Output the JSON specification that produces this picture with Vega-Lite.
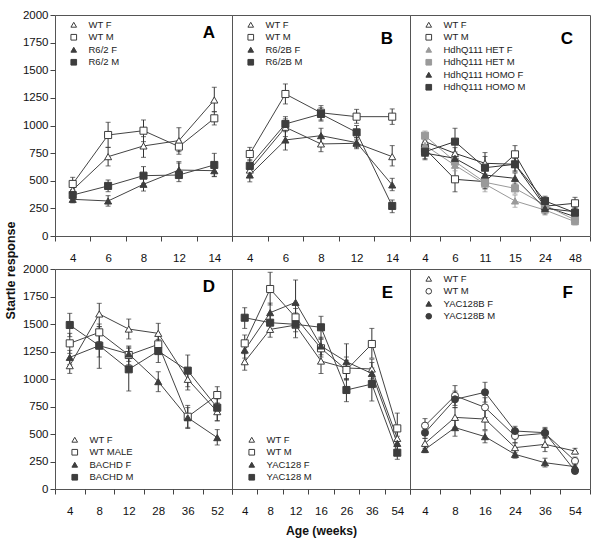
{
"$schema":"https://vega.github.io/schema/vega-lite/v6.json",
"padding":{"top":8,"left":3,"right":5,"bottom":5},
"background":"white",
"config":{
 "font":"Liberation Sans",
 "view":{"stroke":"#555","strokeWidth":1},
 "axis":{"grid":false,"domain":false,"tickColor":"#444","labelColor":"#111","labelFont":"Liberation Sans","titleFont":"Liberation Sans","titleColor":"#111"},
 "axisX":{"tickBand":"extent","tickSize":5,"labelPadding":11,"labelAngle":0,"labelFontSize":11.5},
 "axisY":{"tickSize":5,"labelPadding":2,"labelFontSize":11.5,"format":"d"},
 "legend":{"orient":"top-left","offset":5,"padding":0,"symbolOffset":9,"labelOffset":10,"labelFontSize":9.5,"labelFont":"Liberation Sans","labelColor":"#222","rowPadding":1.5,"symbolSize":32,"symbolStrokeWidth":1},
 "title":{"fontSize":17,"fontWeight":"bold","anchor":"end","offset":-33,"dx":-17,"frame":"group","font":"Liberation Sans","color":"#000"}
},
"datasets":{
 "A":[
  {"a":4,"s":"WT F","m":416,"lo":380,"hi":455},{"a":6,"s":"WT F","m":718,"lo":634,"hi":802},{"a":8,"s":"WT F","m":815,"lo":712,"hi":899},{"a":12,"s":"WT F","m":863,"lo":763,"hi":980},{"a":14,"s":"WT F","m":1231,"lo":1125,"hi":1346},
  {"a":4,"s":"WT M","m":471,"lo":420,"hi":531},{"a":6,"s":"WT M","m":914,"lo":802,"hi":1029},{"a":8,"s":"WT M","m":953,"lo":854,"hi":1050},{"a":12,"s":"WT M","m":809,"lo":740,"hi":860},{"a":14,"s":"WT M","m":1065,"lo":1005,"hi":1125},
  {"a":4,"s":"R6/2 F","m":332,"lo":300,"hi":360},{"a":6,"s":"R6/2 F","m":317,"lo":270,"hi":365},{"a":8,"s":"R6/2 F","m":468,"lo":407,"hi":531},{"a":12,"s":"R6/2 F","m":597,"lo":540,"hi":660},{"a":14,"s":"R6/2 F","m":591,"lo":540,"hi":640},
  {"a":4,"s":"R6/2 M","m":371,"lo":330,"hi":410},{"a":6,"s":"R6/2 M","m":453,"lo":401,"hi":507},{"a":8,"s":"R6/2 M","m":546,"lo":477,"hi":628},{"a":12,"s":"R6/2 M","m":552,"lo":492,"hi":673},{"a":14,"s":"R6/2 M","m":643,"lo":537,"hi":748}
 ],
 "B":[
  {"a":4,"s":"WT F","m":597,"lo":550,"hi":650},{"a":6,"s":"WT F","m":984,"lo":900,"hi":1060},{"a":8,"s":"WT F","m":833,"lo":763,"hi":899},{"a":12,"s":"WT F","m":839,"lo":790,"hi":890},{"a":14,"s":"WT F","m":718,"lo":634,"hi":818},
  {"a":4,"s":"WT M","m":742,"lo":680,"hi":802},{"a":6,"s":"WT M","m":1285,"lo":1195,"hi":1376},{"a":8,"s":"WT M","m":1115,"lo":1050,"hi":1180},{"a":12,"s":"WT M","m":1080,"lo":1020,"hi":1146},{"a":14,"s":"WT M","m":1080,"lo":1010,"hi":1150},
  {"a":4,"s":"R6/2B F","m":552,"lo":490,"hi":600},{"a":6,"s":"R6/2B F","m":869,"lo":778,"hi":975},{"a":8,"s":"R6/2B F","m":908,"lo":840,"hi":975},{"a":12,"s":"R6/2B F","m":845,"lo":800,"hi":890},{"a":14,"s":"R6/2B F","m":462,"lo":410,"hi":522},
  {"a":4,"s":"R6/2B M","m":634,"lo":580,"hi":690},{"a":6,"s":"R6/2B M","m":1014,"lo":944,"hi":1080},{"a":8,"s":"R6/2B M","m":1104,"lo":1040,"hi":1160},{"a":12,"s":"R6/2B M","m":938,"lo":870,"hi":1000},{"a":14,"s":"R6/2B M","m":272,"lo":211,"hi":326}
 ],
 "C":[
  {"a":4,"s":"WT F","g":"dark","m":854,"lo":800,"hi":900},{"a":6,"s":"WT F","g":"dark","m":748,"lo":690,"hi":800},{"a":11,"s":"WT F","g":"dark","m":658,"lo":600,"hi":720},{"a":15,"s":"WT F","g":"dark","m":649,"lo":590,"hi":700},{"a":24,"s":"WT F","g":"dark","m":265,"lo":220,"hi":310},{"a":48,"s":"WT F","g":"dark","m":175,"lo":140,"hi":210},
  {"a":4,"s":"WT M","g":"dark","m":790,"lo":730,"hi":850},{"a":6,"s":"WT M","g":"dark","m":513,"lo":400,"hi":620},{"a":11,"s":"WT M","g":"dark","m":492,"lo":430,"hi":560},{"a":15,"s":"WT M","g":"dark","m":739,"lo":660,"hi":818},{"a":24,"s":"WT M","g":"dark","m":270,"lo":220,"hi":320},{"a":48,"s":"WT M","g":"dark","m":296,"lo":240,"hi":350},
  {"a":4,"s":"HdhQ111 HET F","g":"het","m":820,"lo":770,"hi":870},{"a":6,"s":"HdhQ111 HET F","g":"het","m":640,"lo":590,"hi":690},{"a":11,"s":"HdhQ111 HET F","g":"het","m":470,"lo":400,"hi":540},{"a":15,"s":"HdhQ111 HET F","g":"het","m":317,"lo":260,"hi":370},{"a":24,"s":"HdhQ111 HET F","g":"het","m":235,"lo":190,"hi":280},{"a":48,"s":"HdhQ111 HET F","g":"het","m":130,"lo":100,"hi":160},
  {"a":4,"s":"HdhQ111 HET M","g":"het","m":908,"lo":860,"hi":950},{"a":6,"s":"HdhQ111 HET M","g":"het","m":673,"lo":620,"hi":720},{"a":11,"s":"HdhQ111 HET M","g":"het","m":486,"lo":420,"hi":550},{"a":15,"s":"HdhQ111 HET M","g":"het","m":431,"lo":380,"hi":480},{"a":24,"s":"HdhQ111 HET M","g":"het","m":280,"lo":240,"hi":320},{"a":48,"s":"HdhQ111 HET M","g":"het","m":145,"lo":110,"hi":180},
  {"a":4,"s":"HdhQ111 HOMO F","g":"dark","m":750,"lo":690,"hi":800},{"a":6,"s":"HdhQ111 HOMO F","g":"dark","m":703,"lo":650,"hi":760},{"a":11,"s":"HdhQ111 HOMO F","g":"dark","m":552,"lo":490,"hi":610},{"a":15,"s":"HdhQ111 HOMO F","g":"dark","m":522,"lo":470,"hi":570},{"a":24,"s":"HdhQ111 HOMO F","g":"dark","m":250,"lo":200,"hi":300},{"a":48,"s":"HdhQ111 HOMO F","g":"dark","m":220,"lo":180,"hi":260},
  {"a":4,"s":"HdhQ111 HOMO M","g":"dark","m":763,"lo":700,"hi":820},{"a":6,"s":"HdhQ111 HOMO M","g":"dark","m":854,"lo":740,"hi":975},{"a":11,"s":"HdhQ111 HOMO M","g":"dark","m":618,"lo":520,"hi":755},{"a":15,"s":"HdhQ111 HOMO M","g":"dark","m":649,"lo":580,"hi":720},{"a":24,"s":"HdhQ111 HOMO M","g":"dark","m":317,"lo":270,"hi":360},{"a":48,"s":"HdhQ111 HOMO M","g":"dark","m":211,"lo":170,"hi":250}
 ],
 "D":[
  {"a":4,"s":"WT F","m":1121,"lo":1051,"hi":1188},{"a":8,"s":"WT F","m":1591,"lo":1476,"hi":1688},{"a":12,"s":"WT F","m":1454,"lo":1364,"hi":1545},{"a":28,"s":"WT F","m":1415,"lo":1324,"hi":1506},{"a":36,"s":"WT F","m":997,"lo":900,"hi":1050},{"a":52,"s":"WT F","m":703,"lo":620,"hi":780},
  {"a":4,"s":"WT MALE","m":1324,"lo":1233,"hi":1415},{"a":8,"s":"WT MALE","m":1424,"lo":1340,"hi":1500},{"a":12,"s":"WT MALE","m":1218,"lo":1130,"hi":1300},{"a":28,"s":"WT MALE","m":1315,"lo":1230,"hi":1400},{"a":36,"s":"WT MALE","m":657,"lo":560,"hi":760},{"a":52,"s":"WT MALE","m":854,"lo":780,"hi":930},
  {"a":4,"s":"BACHD F","m":1197,"lo":1130,"hi":1260},{"a":8,"s":"BACHD F","m":1303,"lo":1200,"hi":1400},{"a":12,"s":"BACHD F","m":1227,"lo":1160,"hi":1290},{"a":28,"s":"BACHD F","m":976,"lo":885,"hi":1066},{"a":36,"s":"BACHD F","m":648,"lo":550,"hi":740},{"a":52,"s":"BACHD F","m":467,"lo":400,"hi":540},
  {"a":4,"s":"BACHD M","m":1491,"lo":1385,"hi":1597},{"a":8,"s":"BACHD M","m":1303,"lo":1097,"hi":1476},{"a":12,"s":"BACHD M","m":1088,"lo":891,"hi":1279},{"a":28,"s":"BACHD M","m":1254,"lo":1150,"hi":1360},{"a":36,"s":"BACHD M","m":1076,"lo":930,"hi":1218},{"a":52,"s":"BACHD M","m":739,"lo":620,"hi":820}
 ],
 "E":[
  {"a":4,"s":"WT F","m":1157,"lo":1080,"hi":1230},{"a":8,"s":"WT F","m":1451,"lo":1380,"hi":1520},{"a":12,"s":"WT F","m":1490,"lo":1430,"hi":1560},{"a":16,"s":"WT F","m":1163,"lo":1050,"hi":1270},{"a":26,"s":"WT F","m":1100,"lo":1000,"hi":1200},{"a":36,"s":"WT F","m":1091,"lo":1000,"hi":1180},{"a":54,"s":"WT F","m":460,"lo":390,"hi":530},
  {"a":4,"s":"WT M","m":1324,"lo":1250,"hi":1400},{"a":8,"s":"WT M","m":1818,"lo":1673,"hi":1970},{"a":12,"s":"WT M","m":1560,"lo":1480,"hi":1640},{"a":16,"s":"WT M","m":1279,"lo":1200,"hi":1360},{"a":26,"s":"WT M","m":1082,"lo":990,"hi":1170},{"a":36,"s":"WT M","m":1318,"lo":1190,"hi":1460},{"a":54,"s":"WT M","m":551,"lo":415,"hi":690},
  {"a":4,"s":"YAC128 F","m":1263,"lo":1190,"hi":1330},{"a":8,"s":"YAC128 F","m":1603,"lo":1520,"hi":1690},{"a":12,"s":"YAC128 F","m":1697,"lo":1490,"hi":1900},{"a":16,"s":"YAC128 F","m":1300,"lo":1220,"hi":1380},{"a":26,"s":"YAC128 F","m":1157,"lo":1000,"hi":1320},{"a":36,"s":"YAC128 F","m":1050,"lo":950,"hi":1150},{"a":54,"s":"YAC128 F","m":415,"lo":350,"hi":480},
  {"a":4,"s":"YAC128 M","m":1557,"lo":1460,"hi":1648},{"a":8,"s":"YAC128 M","m":1512,"lo":1430,"hi":1590},{"a":12,"s":"YAC128 M","m":1497,"lo":1376,"hi":1600},{"a":16,"s":"YAC128 M","m":1470,"lo":1370,"hi":1570},{"a":26,"s":"YAC128 M","m":900,"lo":794,"hi":1000},{"a":36,"s":"YAC128 M","m":954,"lo":800,"hi":1100},{"a":54,"s":"YAC128 M","m":330,"lo":270,"hi":390}
 ],
 "F":[
  {"a":4,"s":"WT F","m":415,"lo":370,"hi":460},{"a":8,"s":"WT F","m":651,"lo":560,"hi":740},{"a":16,"s":"WT F","m":636,"lo":540,"hi":730},{"a":24,"s":"WT F","m":376,"lo":330,"hi":420},{"a":36,"s":"WT F","m":406,"lo":340,"hi":470},{"a":54,"s":"WT F","m":345,"lo":320,"hi":370},
  {"a":4,"s":"WT M","m":576,"lo":510,"hi":640},{"a":8,"s":"WT M","m":848,"lo":760,"hi":940},{"a":16,"s":"WT M","m":742,"lo":650,"hi":830},{"a":24,"s":"WT M","m":482,"lo":420,"hi":540},{"a":36,"s":"WT M","m":506,"lo":460,"hi":550},{"a":54,"s":"WT M","m":255,"lo":220,"hi":290},
  {"a":4,"s":"YAC128B F","m":360,"lo":330,"hi":390},{"a":8,"s":"YAC128B F","m":558,"lo":480,"hi":630},{"a":16,"s":"YAC128B F","m":476,"lo":420,"hi":530},{"a":24,"s":"YAC128B F","m":315,"lo":280,"hi":350},{"a":36,"s":"YAC128B F","m":239,"lo":200,"hi":280},{"a":54,"s":"YAC128B F","m":203,"lo":170,"hi":230},
  {"a":4,"s":"YAC128B M","m":512,"lo":460,"hi":560},{"a":8,"s":"YAC128B M","m":815,"lo":740,"hi":890},{"a":16,"s":"YAC128B M","m":879,"lo":790,"hi":970},{"a":24,"s":"YAC128B M","m":527,"lo":490,"hi":570},{"a":36,"s":"YAC128B M","m":512,"lo":470,"hi":560},{"a":54,"s":"YAC128B M","m":164,"lo":140,"hi":190}
 ]
},
"bounds":"flush",
"columns":3,
"spacing":{"row":33,"column":0},
"resolve":{"scale":{"x":"independent","y":"independent","shape":"independent","fill":"independent","stroke":"independent","color":"independent"},"axis":{"x":"independent","y":"independent"},"legend":{"shape":"independent","fill":"independent","stroke":"independent","color":"independent"}},
"concat":[
 {"width":177,"height":221,"data":{"name":"A"},"title":{"text":"A"},
  "encoding":{"x":{"field":"a","type":"ordinal","bandPosition":0.5,"scale":{"type":"band","domain":[4,6,8,12,14],"paddingInner":0,"paddingOuter":0},"axis":{"title":null}},
   "y":{"field":"m","type":"quantitative","scale":{"domain":[0,2000]},"axis":{"values":[0,250,500,750,1000,1250,1500,1750,2000],"title":"Startle response","titleY":255,"titlePadding":5,"titleFontSize":12.5,"titleFontWeight":"bold"}}},
  "layer":[
   {"mark":{"type":"rule","strokeWidth":1,"color":"#333"},"encoding":{"y":{"field":"lo","type":"quantitative"},"y2":{"field":"hi"}}},
   {"mark":{"type":"tick","size":5,"thickness":1,"color":"#333"},"encoding":{"y":{"field":"lo","type":"quantitative"}}},
   {"mark":{"type":"tick","size":5,"thickness":1,"color":"#333"},"encoding":{"y":{"field":"hi","type":"quantitative"}}},
   {"mark":{"type":"line","strokeWidth":1,"color":"#444"},"encoding":{"detail":{"field":"s"}}},
   {"mark":{"type":"point","size":50,"strokeWidth":1,"opacity":1},"encoding":{
     "shape":{"field":"s","type":"nominal","scale":{"domain":["WT F","WT M","R6/2 F","R6/2 M"],"range":["triangle-up","square","triangle-up","square"]},"legend":{"title":null}},
     "fill":{"field":"s","type":"nominal","scale":{"domain":["WT F","WT M","R6/2 F","R6/2 M"],"range":["white","white","#3d3d3d","#3d3d3d"]},"legend":{"title":null}},
     "stroke":{"field":"s","type":"nominal","scale":{"domain":["WT F","WT M","R6/2 F","R6/2 M"],"range":["#3d3d3d","#3d3d3d","#3d3d3d","#3d3d3d"]},"legend":{"title":null}}}}
  ]},
 {"width":178,"height":221,"data":{"name":"B"},"title":{"text":"B"},
  "encoding":{"x":{"field":"a","type":"ordinal","bandPosition":0.5,"scale":{"type":"band","domain":[4,6,8,12,14],"paddingInner":0,"paddingOuter":0},"axis":{"title":null}},
   "y":{"field":"m","type":"quantitative","scale":{"domain":[0,2000]},"axis":null}},
  "layer":[
   {"mark":{"type":"rule","strokeWidth":1,"color":"#333"},"encoding":{"y":{"field":"lo","type":"quantitative"},"y2":{"field":"hi"}}},
   {"mark":{"type":"tick","size":5,"thickness":1,"color":"#333"},"encoding":{"y":{"field":"lo","type":"quantitative"}}},
   {"mark":{"type":"tick","size":5,"thickness":1,"color":"#333"},"encoding":{"y":{"field":"hi","type":"quantitative"}}},
   {"mark":{"type":"line","strokeWidth":1,"color":"#444"},"encoding":{"detail":{"field":"s"}}},
   {"mark":{"type":"point","size":50,"strokeWidth":1,"opacity":1},"encoding":{
     "shape":{"field":"s","type":"nominal","scale":{"domain":["WT F","WT M","R6/2B F","R6/2B M"],"range":["triangle-up","square","triangle-up","square"]},"legend":{"title":null}},
     "fill":{"field":"s","type":"nominal","scale":{"domain":["WT F","WT M","R6/2B F","R6/2B M"],"range":["white","white","#3d3d3d","#3d3d3d"]},"legend":{"title":null}},
     "stroke":{"field":"s","type":"nominal","scale":{"domain":["WT F","WT M","R6/2B F","R6/2B M"],"range":["#3d3d3d","#3d3d3d","#3d3d3d","#3d3d3d"]},"legend":{"title":null}}}}
  ]},
 {"width":180,"height":221,"data":{"name":"C"},"title":{"text":"C"},
  "encoding":{"x":{"field":"a","type":"ordinal","bandPosition":0.5,"scale":{"type":"band","domain":[4,6,11,15,24,48],"paddingInner":0,"paddingOuter":0},"axis":{"title":null}},
   "y":{"field":"m","type":"quantitative","scale":{"domain":[0,2000]},"axis":null}},
  "layer":[
   {"mark":{"type":"rule","strokeWidth":1},"encoding":{"y":{"field":"lo","type":"quantitative"},"y2":{"field":"hi"},"color":{"field":"g","type":"nominal","scale":{"domain":["dark","het"],"range":["#333","#999"]},"legend":null}}},
   {"mark":{"type":"tick","size":5,"thickness":1},"encoding":{"y":{"field":"lo","type":"quantitative"},"color":{"field":"g","type":"nominal","legend":null}}},
   {"mark":{"type":"tick","size":5,"thickness":1},"encoding":{"y":{"field":"hi","type":"quantitative"},"color":{"field":"g","type":"nominal","legend":null}}},
   {"mark":{"type":"line","strokeWidth":1},"encoding":{"detail":{"field":"s"},"color":{"field":"g","type":"nominal","legend":null}}},
   {"mark":{"type":"point","size":50,"strokeWidth":1,"opacity":1},"encoding":{
     "shape":{"field":"s","type":"nominal","scale":{"domain":["WT F","WT M","HdhQ111 HET F","HdhQ111 HET M","HdhQ111 HOMO F","HdhQ111 HOMO M"],"range":["triangle-up","square","triangle-up","square","triangle-up","square"]},"legend":{"title":null}},
     "fill":{"field":"s","type":"nominal","scale":{"domain":["WT F","WT M","HdhQ111 HET F","HdhQ111 HET M","HdhQ111 HOMO F","HdhQ111 HOMO M"],"range":["white","white","#9a9a9a","#9a9a9a","#3d3d3d","#3d3d3d"]},"legend":{"title":null}},
     "stroke":{"field":"s","type":"nominal","scale":{"domain":["WT F","WT M","HdhQ111 HET F","HdhQ111 HET M","HdhQ111 HOMO F","HdhQ111 HOMO M"],"range":["#3d3d3d","#3d3d3d","#9a9a9a","#9a9a9a","#3d3d3d","#3d3d3d"]},"legend":{"title":null}}}}
  ]},
 {"width":177,"height":220,"data":{"name":"D"},"title":{"text":"D"},
  "encoding":{"x":{"field":"a","type":"ordinal","bandPosition":0.5,"scale":{"type":"band","domain":[4,8,12,28,36,52],"paddingInner":0,"paddingOuter":0},"axis":{"title":null}},
   "y":{"field":"m","type":"quantitative","scale":{"domain":[0,2000]},"axis":{"values":[0,250,500,750,1000,1250,1500,1750,2000],"title":null}}},
  "layer":[
   {"mark":{"type":"rule","strokeWidth":1,"color":"#333"},"encoding":{"y":{"field":"lo","type":"quantitative"},"y2":{"field":"hi"}}},
   {"mark":{"type":"tick","size":5,"thickness":1,"color":"#333"},"encoding":{"y":{"field":"lo","type":"quantitative"}}},
   {"mark":{"type":"tick","size":5,"thickness":1,"color":"#333"},"encoding":{"y":{"field":"hi","type":"quantitative"}}},
   {"mark":{"type":"line","strokeWidth":1,"color":"#444"},"encoding":{"detail":{"field":"s"}}},
   {"mark":{"type":"point","size":50,"strokeWidth":1,"opacity":1},"encoding":{
     "shape":{"field":"s","type":"nominal","scale":{"domain":["WT F","WT MALE","BACHD F","BACHD M"],"range":["triangle-up","square","triangle-up","square"]},"legend":{"title":null,"orient":"bottom-left","offset":6}},
     "fill":{"field":"s","type":"nominal","scale":{"domain":["WT F","WT MALE","BACHD F","BACHD M"],"range":["white","white","#3d3d3d","#3d3d3d"]},"legend":{"title":null,"orient":"bottom-left","offset":6}},
     "stroke":{"field":"s","type":"nominal","scale":{"domain":["WT F","WT MALE","BACHD F","BACHD M"],"range":["#3d3d3d","#3d3d3d","#3d3d3d","#3d3d3d"]},"legend":{"title":null,"orient":"bottom-left","offset":6}}}}
  ]},
 {"width":178,"height":220,"data":{"name":"E"},"title":{"text":"E"},
  "encoding":{"x":{"field":"a","type":"ordinal","bandPosition":0.5,"scale":{"type":"band","domain":[4,8,12,16,26,36,54],"paddingInner":0,"paddingOuter":0},"axis":{"title":"Age (weeks)","titleFontSize":12.2,"titleFontWeight":"bold","titlePadding":8}},
   "y":{"field":"m","type":"quantitative","scale":{"domain":[0,2000]},"axis":null}},
  "layer":[
   {"mark":{"type":"rule","strokeWidth":1,"color":"#333"},"encoding":{"y":{"field":"lo","type":"quantitative"},"y2":{"field":"hi"}}},
   {"mark":{"type":"tick","size":5,"thickness":1,"color":"#333"},"encoding":{"y":{"field":"lo","type":"quantitative"}}},
   {"mark":{"type":"tick","size":5,"thickness":1,"color":"#333"},"encoding":{"y":{"field":"hi","type":"quantitative"}}},
   {"mark":{"type":"line","strokeWidth":1,"color":"#444"},"encoding":{"detail":{"field":"s"}}},
   {"mark":{"type":"point","size":50,"strokeWidth":1,"opacity":1},"encoding":{
     "shape":{"field":"s","type":"nominal","scale":{"domain":["WT F","WT M","YAC128 F","YAC128 M"],"range":["triangle-up","square","triangle-up","square"]},"legend":{"title":null,"orient":"bottom-left","offset":6}},
     "fill":{"field":"s","type":"nominal","scale":{"domain":["WT F","WT M","YAC128 F","YAC128 M"],"range":["white","white","#3d3d3d","#3d3d3d"]},"legend":{"title":null,"orient":"bottom-left","offset":6}},
     "stroke":{"field":"s","type":"nominal","scale":{"domain":["WT F","WT M","YAC128 F","YAC128 M"],"range":["#3d3d3d","#3d3d3d","#3d3d3d","#3d3d3d"]},"legend":{"title":null,"orient":"bottom-left","offset":6}}}}
  ]},
 {"width":180,"height":220,"data":{"name":"F"},"title":{"text":"F"},
  "encoding":{"x":{"field":"a","type":"ordinal","bandPosition":0.5,"scale":{"type":"band","domain":[4,8,16,24,36,54],"paddingInner":0,"paddingOuter":0},"axis":{"title":null}},
   "y":{"field":"m","type":"quantitative","scale":{"domain":[0,2000]},"axis":null}},
  "layer":[
   {"mark":{"type":"rule","strokeWidth":1,"color":"#333"},"encoding":{"y":{"field":"lo","type":"quantitative"},"y2":{"field":"hi"}}},
   {"mark":{"type":"tick","size":5,"thickness":1,"color":"#333"},"encoding":{"y":{"field":"lo","type":"quantitative"}}},
   {"mark":{"type":"tick","size":5,"thickness":1,"color":"#333"},"encoding":{"y":{"field":"hi","type":"quantitative"}}},
   {"mark":{"type":"line","strokeWidth":1,"color":"#444"},"encoding":{"detail":{"field":"s"}}},
   {"mark":{"type":"point","size":50,"strokeWidth":1,"opacity":1},"encoding":{
     "shape":{"field":"s","type":"nominal","scale":{"domain":["WT F","WT M","YAC128B F","YAC128B M"],"range":["triangle-up","circle","triangle-up","circle"]},"legend":{"title":null}},
     "fill":{"field":"s","type":"nominal","scale":{"domain":["WT F","WT M","YAC128B F","YAC128B M"],"range":["white","white","#3d3d3d","#3d3d3d"]},"legend":{"title":null}},
     "stroke":{"field":"s","type":"nominal","scale":{"domain":["WT F","WT M","YAC128B F","YAC128B M"],"range":["#3d3d3d","#3d3d3d","#3d3d3d","#3d3d3d"]},"legend":{"title":null}}}}
  ]}
]
}
